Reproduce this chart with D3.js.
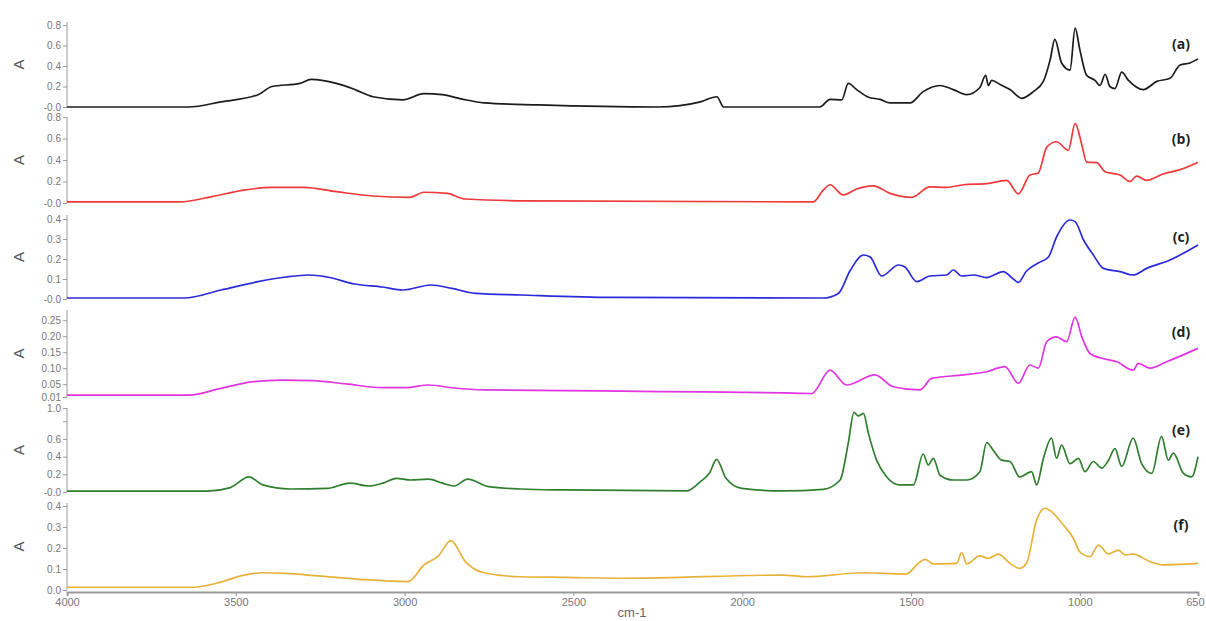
<!DOCTYPE html>
<html>
<head>
<meta charset="utf-8">
<script src="https://d3js.org/d3.v7.min.js"></script>
<style>
    body { margin: 0; background: #fff; }
    .tick text { font-family: "Liberation Sans", Arial, sans-serif; fill: #777; }
    .domain, .tick line { stroke: #999; }
</style>
</head>
<body>
<script>
//spectra: [wavenumber cm-1, absorbance]
var seriesA = [[4000,0],[3640,0],[3544,0.05],[3434,0.12],[3393,0.20],[3310,0.23],[3277,0.27],[3202,0.23],[3147,0.17],[3094,0.10],[3005,0.07],[2943,0.13],[2889,0.12],[2833,0.08],[2765,0.04],[2602,0.02],[2246,0.0],[2124,0.05],[2075,0.10],[2055,0.0],[1888,0],[1770,0.0],[1740,0.075],[1705,0.07],[1686,0.23],[1661,0.17],[1626,0.095],[1592,0.075],[1562,0.04],[1503,0.04],[1464,0.15],[1414,0.21],[1375,0.17],[1335,0.12],[1296,0.19],[1279,0.31],[1271,0.21],[1261,0.26],[1236,0.22],[1207,0.17],[1172,0.085],[1138,0.15],[1108,0.25],[1088,0.46],[1074,0.66],[1054,0.43],[1029,0.36],[1014,0.77],[1000,0.56],[980,0.31],[955,0.26],[940,0.21],[925,0.32],[911,0.20],[896,0.18],[876,0.34],[856,0.26],[812,0.17],[772,0.25],[733,0.28],[703,0.41],[674,0.43],[650,0.47]];
var seriesB = [[4000,0.01],[3665,0.01],[3570,0.06],[3476,0.12],[3393,0.145],[3298,0.145],[3202,0.105],[3094,0.065],[2984,0.053],[2943,0.10],[2874,0.09],[2820,0.037],[2628,0.02],[1790,0.01],[1760,0.12],[1740,0.17],[1701,0.075],[1661,0.13],[1612,0.16],[1562,0.09],[1498,0.053],[1444,0.15],[1394,0.145],[1345,0.17],[1276,0.18],[1217,0.21],[1182,0.085],[1148,0.26],[1123,0.28],[1098,0.52],[1069,0.57],[1034,0.49],[1014,0.74],[994,0.54],[980,0.38],[950,0.375],[925,0.29],[881,0.26],[851,0.20],[832,0.25],[802,0.21],[753,0.27],[703,0.31],[650,0.38]];
var seriesC = [[4000,0.005],[3653,0.005],[3544,0.045],[3434,0.087],[3351,0.11],[3283,0.12],[3230,0.11],[3147,0.075],[3065,0.06],[3005,0.045],[2922,0.07],[2860,0.053],[2791,0.028],[2655,0.02],[2383,0.008],[1760,0.005],[1715,0.028],[1681,0.14],[1641,0.22],[1621,0.21],[1587,0.115],[1537,0.17],[1518,0.16],[1483,0.087],[1444,0.115],[1394,0.12],[1375,0.145],[1350,0.115],[1315,0.12],[1276,0.107],[1227,0.137],[1197,0.10],[1182,0.083],[1158,0.14],[1123,0.18],[1093,0.21],[1069,0.31],[1029,0.395],[1014,0.387],[989,0.295],[960,0.22],[930,0.153],[881,0.137],[842,0.12],[802,0.153],[733,0.195],[650,0.27]];
var seriesD = [[4000,0.016],[3639,0.016],[3544,0.037],[3448,0.058],[3366,0.063],[3271,0.061],[3174,0.051],[3065,0.039],[2997,0.039],[2929,0.0475],[2860,0.039],[2765,0.032],[2519,0.03],[2246,0.027],[1880,0.023],[1794,0.021],[1740,0.094],[1691,0.0475],[1607,0.079],[1553,0.042],[1474,0.032],[1439,0.068],[1345,0.079],[1276,0.089],[1222,0.105],[1182,0.053],[1148,0.11],[1123,0.10],[1098,0.183],[1069,0.198],[1039,0.183],[1014,0.26],[994,0.198],[970,0.146],[935,0.131],[890,0.12],[842,0.094],[827,0.115],[792,0.10],[743,0.12],[650,0.162]];
var seriesE = [[4000,0.01],[3584,0.01],[3516,0.05],[3461,0.17],[3420,0.08],[3339,0.034],[3230,0.04],[3162,0.10],[3106,0.068],[3065,0.10],[3024,0.155],[2984,0.136],[2929,0.145],[2888,0.10],[2854,0.068],[2813,0.145],[2751,0.06],[2656,0.034],[2519,0.023],[2165,0.012],[2124,0.117],[2096,0.22],[2076,0.37],[2048,0.155],[2001,0.04],[1880,0.012],[1760,0.03],[1710,0.136],[1686,0.55],[1669,0.90],[1656,0.86],[1641,0.89],[1626,0.66],[1602,0.36],[1572,0.17],[1533,0.08],[1493,0.08],[1464,0.43],[1449,0.305],[1434,0.38],[1414,0.19],[1375,0.136],[1335,0.136],[1296,0.23],[1276,0.56],[1256,0.47],[1232,0.36],[1207,0.345],[1178,0.17],[1143,0.23],[1128,0.08],[1108,0.38],[1084,0.61],[1069,0.38],[1054,0.53],[1029,0.32],[1004,0.38],[985,0.23],[960,0.345],[935,0.27],[915,0.36],[896,0.49],[876,0.29],[842,0.61],[817,0.32],[787,0.21],[758,0.63],[738,0.36],[723,0.44],[693,0.21],[669,0.17],[650,0.40]];
var seriesF = [[4000,0.013],[3625,0.013],[3557,0.032],[3475,0.071],[3420,0.082],[3352,0.079],[3256,0.067],[3134,0.051],[2990,0.04],[2942,0.12],[2901,0.16],[2863,0.235],[2820,0.135],[2765,0.082],[2656,0.063],[2519,0.06],[2342,0.056],[1880,0.071],[1809,0.063],[1641,0.082],[1513,0.076],[1483,0.12],[1458,0.146],[1434,0.124],[1365,0.127],[1350,0.178],[1335,0.124],[1296,0.162],[1271,0.151],[1242,0.171],[1207,0.127],[1178,0.103],[1158,0.127],[1128,0.333],[1103,0.389],[1084,0.373],[1049,0.31],[1019,0.246],[1000,0.182],[970,0.159],[945,0.214],[915,0.171],[886,0.19],[866,0.167],[842,0.171],[792,0.135],[753,0.12],[650,0.127]];

//panel names, y ranges and tick labels
var panelNames = ["(a)", "(b)", "(c)", "(d)", "(e)", "(f)"];
var yMin = [0, 0, 0, 0.01, 0, 0];
var yMax = [0.83, 0.8, 0.42, 0.282, 0.95, 0.414];
var yTicks = [[0,0.2,0.4,0.6,0.8],[0,0.2,0.4,0.6,0.8],[0,0.1,0.2,0.3,0.4],[0.01,0.05,0.10,0.15,0.20,0.25],[0,0.2,0.4,0.6,0.8,0.95],[0,0.1,0.2,0.3,0.4]];
var yTickLabels = [["-0.0","0.2","0.4","0.6","0.8"],["-0.0","0.2","0.4","0.6","0.8"],["-0.0","0.1","0.2","0.3","0.4"],["0.01","0.05","0.10","0.15","0.20","0.25"],["-0.0","0.2","0.4","0.6","","1.0"],["0.0","0.1","0.2","0.3","0.4"]];
var xTicks = [4000, 3500, 3000, 2500, 2000, 1500, 1000, 650];

var allSeries = [seriesA, seriesB, seriesC, seriesD, seriesE, seriesF];

window.onload = setChart();

function setChart(){
    var width = 1206,
        height = 621;

    //pixel top and bottom of each stacked panel
    var panelTop = [22, 117, 215, 310, 408, 503],
        panelBottom = [107, 203, 299, 397, 492, 590];
    var colors = ["#1c1c1c", "#ee3a3a", "#2b2bdc", "#e035e0", "#2f7f2f", "#e8b23a"];

    var svg = d3.select("body")
        .append("svg")
        .attr("width", width)
        .attr("height", height);

    //one shared wavenumber axis, reversed
    var x = d3.scaleLinear()
        .domain([4000, 650])
        .range([67, 1198]);

    for (var i=0; i<allSeries.length; i++){
        var y = d3.scaleLinear()
            .domain([yMin[i], yMax[i]])
            .range([panelBottom[i], panelTop[i]]);

        var labels = yTickLabels[i];
        var yAxis = d3.axisLeft(y)
            .tickValues(yTicks[i])
            .tickSize(4)
            .tickPadding(2)
            .tickFormat(function(d, k){ return labels[k]; });

        var g = svg.append("g")
            .attr("transform", "translate(67,0)")
            .call(yAxis);
        g.selectAll(".tick text").style("font-size", "10px");
        g.select(".domain").attr("d", "M0," + panelTop[i] + "V" + panelBottom[i]);

        //y axis title
        svg.append("text")
            .attr("transform", "translate(24," + ((panelTop[i] + panelBottom[i]) / 2) + ") rotate(-90)")
            .attr("text-anchor", "middle")
            .style("font-family", "Liberation Sans, Arial, sans-serif")
            .style("font-size", "15px")
            .style("fill", "#555")
            .text("A");

        var line = d3.line()
            .curve(d3.curveMonotoneX)
            .x(function(d){ return x(d[0]); })
            .y(function(d){ return y(d[1]); });

        svg.append("path")
            .datum(allSeries[i])
            .attr("fill", "none")
            .attr("stroke", colors[i])
            .attr("stroke-width", 1.7)
            .attr("stroke-linejoin", "round")
            .attr("d", line);

        //panel letter on the right
        svg.append("text")
            .attr("x", 1181)
            .attr("y", panelTop[i] + 27)
            .attr("text-anchor", "middle")
            .style("font-family", "Open Sans, Liberation Sans, sans-serif")
            .style("font-weight", "bold")
            .style("font-size", "14px")
            .style("fill", "#222")
            .text(panelNames[i]);
    }

    //bottom x axis
    var xAxis = d3.axisBottom(x)
        .tickValues(xTicks)
        .tickSize(4)
        .tickPadding(2)
        .tickFormat(d3.format("d"));

    var gx = svg.append("g")
        .attr("transform", "translate(0,592)")
        .call(xAxis);
    gx.selectAll(".tick text").style("font-size", "11px");
    //keep the last label inside the window
    gx.selectAll(".tick text")
        .filter(function(d){ return d == 650; })
        .attr("text-anchor", "end")
        .attr("dx", "6px");
    gx.select(".domain").style("stroke-width", 2);

    svg.append("text")
        .attr("x", 632)
        .attr("y", 617)
        .attr("text-anchor", "middle")
        .style("font-family", "Liberation Sans, Arial, sans-serif")
        .style("font-size", "13px")
        .style("fill", "#666")
        .text("cm-1");
};
</script>
</body>
</html>
